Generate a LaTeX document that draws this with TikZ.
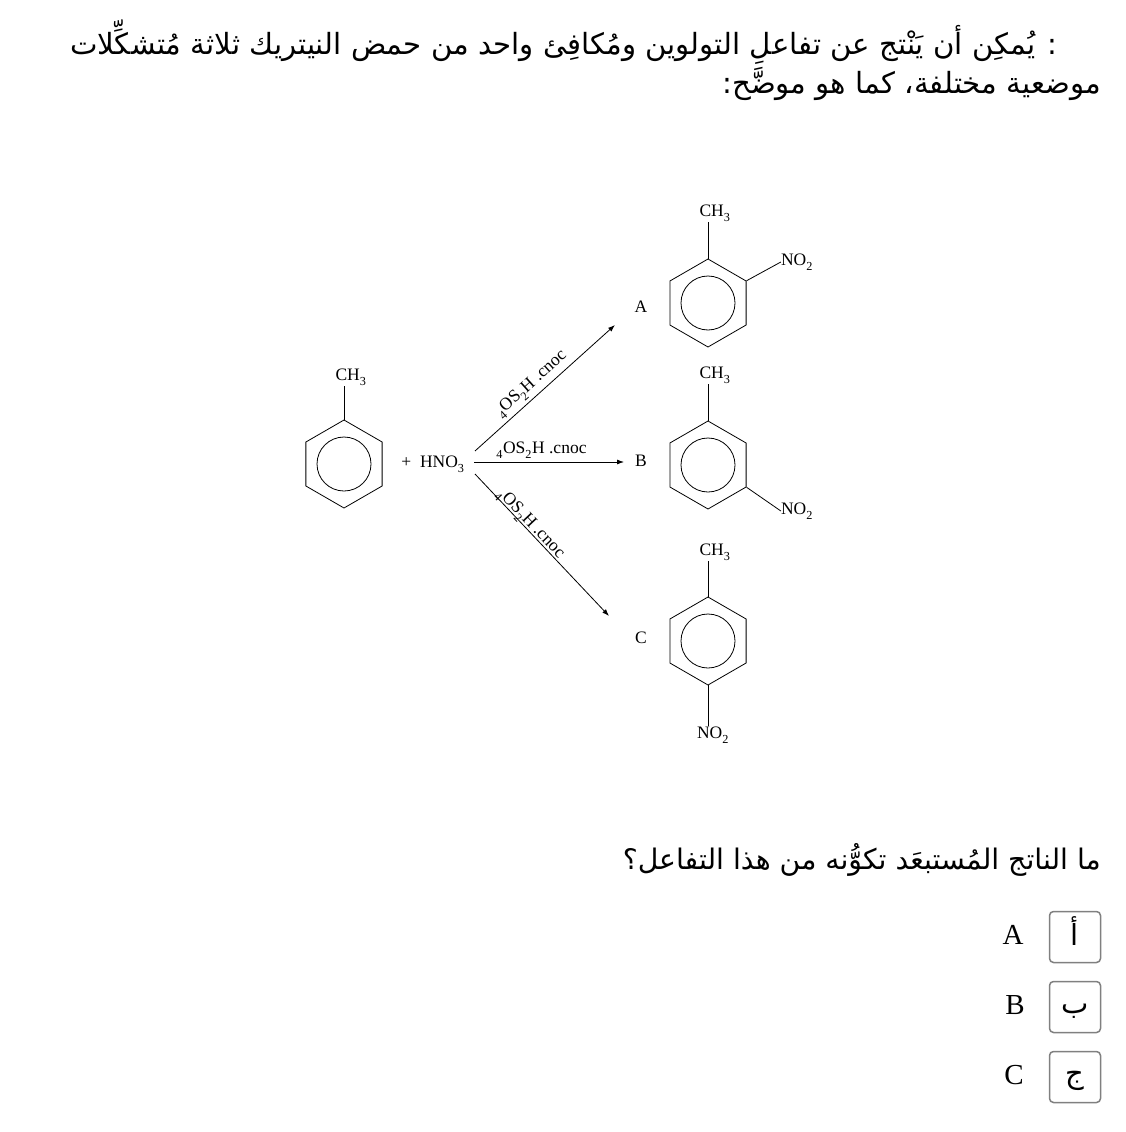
\documentclass[tikz,border=0pt]{standalone}
\usepackage{fontspec}
\usetikzlibrary{shapes.geometric,arrows.meta}
\setmainfont{Liberation Serif}
\newfontfamily\arabicfont[Script=Arabic]{DejaVu Sans}
\TeXXeTstate=1
\newcommand{\lowsub}[1]{\raisebox{-2.5pt}{\textsubscript{#1}}}
\newcommand{\cnoc}{\lowsub{4}OS\lowsub{2}H .cnoc}
\newcommand{\methyl}{CH\lowsub{3}}
\newcommand{\nitro}{NO\lowsub{2}}
\newcommand{\optletter}[2]{\smash{\raisebox{#1}{#2}}}
\newcommand{\benzene}[2]{%
  \node [ring] (#1) at (#2) {};
  \node [innerring] (#1c) at (#2) {};
}
\tikzset{
  ring/.style={draw,line width=.8pt,regular polygon,regular polygon sides=6,shape border rotate=30,minimum size=88pt,inner sep=0pt},
  innerring/.style={draw,line width=.8pt,circle,minimum size=54pt,inner sep=0pt},
  bond/.style={line width=.8pt},
  chem/.style={inner sep=0pt,font=\fontsize{17.5}{18}\selectfont},
  para/.style={inner sep=0pt,font=\arabicfont\fontsize{29.2}{32}\selectfont},
  answer/.style={inner sep=0pt,font=\fontsize{29}{32}\selectfont},
  optbox/.style={draw=black!50,line width=1.5pt,rounded corners=4pt,minimum size=51pt,inner sep=0pt,font=\arabicfont\fontsize{29}{32}\selectfont}
}
\begin{document}
\begin{tikzpicture}[x=1pt,y=-1pt,>={Latex[length=7pt,width=5pt]}]
  \useasboundingbox (0,0) rectangle (1126,1132);

  \node [para,anchor=east] (line1) at (1058,42) {\beginR : يُمكِن أن يَنْتج عن تفاعلِ التولوين ومُكافِئ واحد من حمض النيتريك ثلاثة مُتشكِّلات\endR};
  \node [para,anchor=east] (line2) at (1101,84) {\beginR موضعية مختلفة، كما هو موضَّح:\endR};

  \benzene{tol}{344,464}
  \benzene{ringa}{708,303}
  \benzene{ringb}{708,465}
  \benzene{ringc}{708,641}

  \node [chem] (tolme) at (351,377) {\methyl};
  \node [chem] (ame) at (715,213) {\methyl};
  \node [chem] (bme) at (715,375) {\methyl};
  \node [chem] (cme) at (715,552) {\methyl};
  \node [chem] (ano) at (797,262) {\nitro};
  \node [chem] (bno) at (797,511) {\nitro};
  \node [chem] (cno) at (713,735) {\nitro};

  \draw[bond] (tol.corner 1) -- (tol.corner 1 |- tolme.south);
  \draw[bond] (ringa.corner 1) -- (ringa.corner 1 |- ame.south);
  \draw[bond] (ringb.corner 1) -- (ringb.corner 1 |- bme.south);
  \draw[bond] (ringc.corner 1) -- (ringc.corner 1 |- cme.south);
  \draw[bond] (ringa.corner 6) -- (ano.west);
  \draw[bond] (ringb.corner 5) -- (bno.west);
  \draw[bond] (ringc.corner 4) -- (ringc.corner 4 |- cno.north);

  \node [chem] (hno) at (433,464) {+\ \ HNO\lowsub{3}};
  \node [chem] (laba) at (641,307) {A};
  \node [chem] (labb) at (641,461) {B};
  \node [chem] (labc) at (641,638) {C};

  \coordinate (starta) at (475,451);
  \coordinate (startb) at (474,462);
  \coordinate (startc) at (475,474);
  \coordinate (enda) at (615,325);
  \coordinate (endb) at (624,462);
  \coordinate (endc) at (609,616);

  \draw[->,bond] (starta) -- node [chem,above,sloped,pos=.46,yshift=3pt] {\cnoc} (enda);
  \draw[->,bond] (startb) -- node [chem,above,pos=.45,yshift=3pt] {\cnoc} (endb);
  \draw[->,bond] (startc) -- node [chem,above,sloped,pos=.38,yshift=-3pt] {\cnoc} (endc);

  \node [para,anchor=east,font=\arabicfont\fontsize{28.3}{32}\selectfont] (question) at (1101,860) {\beginR ما الناتج المُستبعَد تكوُّنه من هذا التفاعل؟\endR};

  \node [optbox] (opta) at (1075,937) {\optletter{-8pt}{أ}};
  \node [optbox] (optb) at (1075,1007) {\optletter{-6pt}{ب}};
  \node [optbox] (optc) at (1075,1077) {\optletter{-6pt}{ج}};

  \node [answer] (ansa) at (1013,935) {A};
  \node [answer] (ansb) at (1015,1005) {B};
  \node [answer] (ansc) at (1014,1075) {C};
\end{tikzpicture}
\end{document}
